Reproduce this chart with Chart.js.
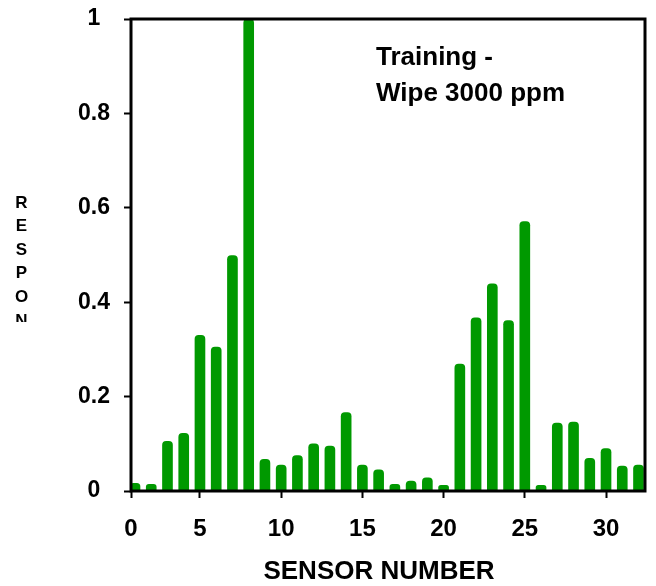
<!DOCTYPE html>
<html>
<head>
<meta charset="utf-8">
<script src="https://cdn.jsdelivr.net/npm/chart.js@4.4.1/dist/chart.umd.min.js"></script>
<style>
  html, body { margin: 0; padding: 0; background: #fff; }
  #wrap { width: 656px; height: 586px; }
</style>
</head>
<body>
<div id="wrap"><canvas id="c" width="656" height="586"></canvas></div>
<script>
// ---- data ----
const sensors = [1,2,3,4,5,6,7,8,9,10,11,12,13,14,15,16,17,18,19,20,21,22,23,24,25,26,27,28,29,30,31,32];
const response = [0.016,0.014,0.105,0.122,0.330,0.305,0.499,1.0,0.067,0.055,0.075,0.100,0.095,0.166,0.055,0.045,
                  0.014,0.021,0.028,0.012,0.269,0.367,0.439,0.361,0.571,0.012,0.144,0.146,0.069,0.090,0.053,0.055];
const xTickValues = [0,5,10,15,20,25,30];
const xTickLabels = ['0','5','10','15','20','25','30'];
const yTickValues = [0,0.2,0.4,0.6,0.8,1];
const yTickLabels = ['0','0.2','0.4','0.6','0.8','1'];
const annotationLines = ['Training -', 'Wipe 3000 ppm'];
const xTitle = 'SENSOR NUMBER';
const yTitle = 'RESPONSE';

const FONT = "'Liberation Sans', Arial, Helvetica, sans-serif";
const GREEN = 'rgb(0,153,0)';

const textPlugin = {
  id: 'texts',
  afterDatasetsDraw(chart) {
    const ctx = chart.ctx, a = chart.chartArea;
    ctx.save();
    ctx.strokeStyle = '#000';
    ctx.lineWidth = 3;
    ctx.strokeRect(a.left, a.top, a.right - a.left, a.bottom - a.top);
    ctx.restore();
  },
  afterDraw(chart) {
    const ctx = chart.ctx;
    ctx.save();
    ctx.fillStyle = '#000';
    ctx.font = 'bold 26px ' + FONT;
    ctx.textAlign = 'left';
    ctx.textBaseline = 'alphabetic';
    ctx.fillText(annotationLines[0], 376, 65);
    ctx.fillText(annotationLines[1], 376, 101);
    ctx.textAlign = 'center';
    ctx.fillText(xTitle, 379, 579);
    ctx.beginPath();
    ctx.rect(0, 0, 60, 322);
    ctx.clip();
    ctx.font = 'bold 17px ' + FONT;
    ctx.textBaseline = 'middle';
    for (let i = 0; i < yTitle.length; i++) {
      ctx.fillText(yTitle[i], 21.5, 203 + i * 23.6);
    }
    ctx.restore();
  }
};

new Chart(document.getElementById('c'), {
  type: 'bar',
  data: {
    datasets: [{
      data: sensors.map((s, i) => ({ x: s, y: response[i] })),
      backgroundColor: GREEN,
      borderWidth: 0,
      borderRadius: 4,
      barThickness: 10
    }]
  },
  options: {
    responsive: false,
    animation: false,
    layout: { padding: { left: 0, right: 11, top: 19, bottom: 0 } },
    plugins: { legend: { display: false }, tooltip: { enabled: false } },
    scales: {
      x: {
        type: 'linear',
        offset: false,
        min: 0.754,
        max: 32.40,
        afterBuildTicks(scale) {
          scale.ticks = xTickValues.map(v => ({ value: Math.max(v, scale.min) }));
        },
        afterFit(scale) {
          scale.height = 95;
          scale.paddingLeft = 0; scale.paddingRight = 0;
        },
        grid: { display: true, offset: false, drawOnChartArea: false, drawTicks: true, tickLength: 7, tickColor: '#000', tickWidth: 2 },
        border: { display: false },
        ticks: {
          autoSkip: false,
          maxRotation: 0,
          padding: 17,
          color: '#000',
          font: { family: FONT, size: 24, weight: 'bold' },
          callback: (v, i) => xTickLabels[i]
        }
      },
      y: {
        type: 'linear',
        min: 0,
        max: 1,
        afterBuildTicks(scale) {
          scale.ticks = yTickValues.map(v => ({ value: v }));
        },
        afterFit(scale) {
          scale.width = 131;
          scale.paddingTop = 0; scale.paddingBottom = 0;
        },
        grid: { display: true, drawOnChartArea: false, drawTicks: true, tickLength: 7, tickColor: '#000', tickWidth: 2 },
        border: { display: false },
        ticks: {
          autoSkip: false,
          padding: 14,
          crossAlign: 'center',
          color: '#000',
          font: { family: FONT, size: 23, weight: 'bold' },
          callback: (v, i) => yTickLabels[i]
        }
      }
    }
  },
  plugins: [textPlugin]
});
</script>
</body>
</html>
